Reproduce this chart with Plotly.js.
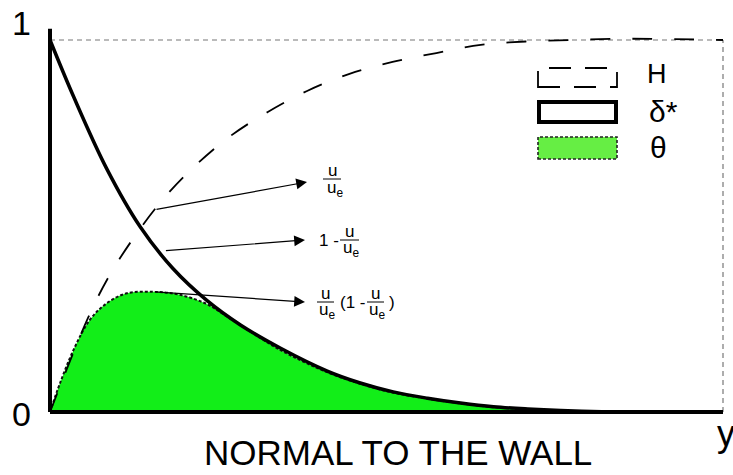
<!DOCTYPE html>
<html>
<head>
<meta charset="utf-8">
<script src="https://cdn.plot.ly/plotly-3.0.1.min.js"></script>
<style>html,body{margin:0;padding:0;background:#fff;}#chart{width:733px;height:475px;}</style>
</head>
<body>
<div id="chart"></div>
<script>
// Distance normal to the wall (arbitrary units)
const yStar = [0, 0.35, 0.84, 1.34, 1.83, 2.33, 2.83, 3.42, 4.12, 4.61, 5.10, 5.61, 6.10, 6.59, 7.10, 7.59, 8.2, 9.0, 10];
// 1 - u/ue : displacement thickness integrand
const defect = [1.0, 0.848, 0.655, 0.498, 0.385, 0.300, 0.234, 0.172, 0.110, 0.078, 0.054, 0.037, 0.024, 0.014, 0.008, 0.004, 0.001, 0, 0];

const yVel = [0, 0.57, 0.88, 1.25, 1.67, 2.14, 2.66, 3.23, 3.82, 4.45, 5.09, 5.74, 6.40, 7.07, 7.74, 8.41, 9.1, 10];
// u/ue : velocity profile
const velocity = [0, 0.255, 0.366, 0.470, 0.570, 0.659, 0.739, 0.806, 0.863, 0.909, 0.941, 0.965, 0.987, 0.996, 1.0, 1.003, 1.003, 1.0];

const yMom = [0, 0.15, 0.35, 0.59, 0.84, 1.14, 1.54, 1.93, 2.33, 2.72, 3.42, 4.12, 4.61, 5.10, 5.61, 6.10, 6.59, 7.10, 7.59, 8.2, 9.0, 10];
// u/ue (1 - u/ue) : momentum thickness integrand
const momentum = [0, 0.078, 0.167, 0.247, 0.292, 0.319, 0.323, 0.315, 0.290, 0.246, 0.167, 0.107, 0.076, 0.052, 0.036, 0.023, 0.013, 0.007, 0.003, 0.001, 0, 0];

const legendNames = ['H', 'δ*', 'θ'];
const yTickText = ['0', '1'];
const xTitle = 'NORMAL TO THE WALL';

// ---- layout geometry (pixels) ----
const W = 733, H = 475;
const M = {l: 46, r: 5, t: 22, b: 56};
const plotW = W - M.l - M.r, plotH = H - M.t - M.b;
const X0PX = 50, X1PX = 723, Y0PX = 412, Y1PX = 40, XMAX = 10;
const xr = [(M.l - X0PX) / (X1PX - X0PX) * XMAX, (W - M.r - X0PX) / (X1PX - X0PX) * XMAX];
const yr = [(Y0PX - (H - M.b)) / (Y0PX - Y1PX), (Y0PX - M.t) / (Y0PX - Y1PX)];
const px = x => (x - M.l) / plotW;          // pixel -> paper x
const py = y => (H - M.b - y) / plotH;      // pixel -> paper y
const dx = x => (x - X0PX) / (X1PX - X0PX) * XMAX; // pixel -> data x
const dy = y => (Y0PX - y) / (Y0PX - Y1PX);        // pixel -> data y

function interp(xs, ys, x) {
  for (let i = 1; i < xs.length; i++) {
    if (x <= xs[i]) {
      const t = (x - xs[i - 1]) / (xs[i] - xs[i - 1]);
      return ys[i - 1] + t * (ys[i] - ys[i - 1]);
    }
  }
  return ys[ys.length - 1];
}

const FONT = '"Liberation Sans", Arial, sans-serif';
const GREEN = '#12EE18';

const traces = [
  {x: yMom, y: momentum, type: 'scatter', mode: 'lines', fill: 'tozeroy', fillcolor: GREEN,
   line: {color: '#111', width: 2, dash: '3px,2px', shape: 'spline', smoothing: 1}, hoverinfo: 'skip'},
  {x: yStar, y: defect, type: 'scatter', mode: 'lines',
   line: {color: '#000', width: 3.5, shape: 'spline', smoothing: 1}, hoverinfo: 'skip'},
  {x: yVel, y: velocity, type: 'scatter', mode: 'lines',
   line: {color: '#000', width: 1.8, dash: '20px,22px', shape: 'spline', smoothing: 1}, hoverinfo: 'skip'}
];

const shapes = [
  // frame: dashed top (u/ue = 1) and right edge
  {type: 'line', xref: 'x', yref: 'y', x0: 0, x1: XMAX, y0: 1, y1: 1, layer: 'below', line: {color: '#777', width: 1.2, dash: '5px,4px'}},
  {type: 'line', xref: 'x', yref: 'y', x0: XMAX, x1: XMAX, y0: 0, y1: 1, layer: 'below', line: {color: '#777', width: 1.2, dash: '5px,4px'}},
  // axes
  {type: 'line', xref: 'x', yref: 'y', x0: 0, x1: 0, y0: 0, y1: 1.03, line: {color: '#000', width: 4}},
  {type: 'line', xref: 'x', yref: 'y', x0: 0, x1: XMAX, y0: 0, y1: 0, line: {color: '#000', width: 4}},
  // legend swatches
  {type: 'rect', xref: 'paper', yref: 'paper', x0: px(538), x1: px(617), y0: py(87), y1: py(68), line: {color: '#000', width: 1.8, dash: '22px,14px'}},
  {type: 'rect', xref: 'paper', yref: 'paper', x0: px(539), x1: px(616), y0: py(122), y1: py(102), fillcolor: '#fff', line: {color: '#000', width: 4}},
  {type: 'rect', xref: 'paper', yref: 'paper', x0: px(538), x1: px(617), y0: py(159), y1: py(137), fillcolor: '#66EE44', line: {color: '#222', width: 1.6, dash: '3px,2px'}},
  // fraction bars
  {type: 'line', xref: 'paper', yref: 'paper', x0: px(323), x1: px(341), y0: py(179), y1: py(179), line: {color: '#000', width: 1}},
  {type: 'line', xref: 'paper', yref: 'paper', x0: px(340), x1: px(359), y0: py(240), y1: py(240), line: {color: '#000', width: 1}},
  {type: 'line', xref: 'paper', yref: 'paper', x0: px(317), x1: px(334), y0: py(302), y1: py(302), line: {color: '#000', width: 1}},
  {type: 'line', xref: 'paper', yref: 'paper', x0: px(367), x1: px(384), y0: py(302), y1: py(302), line: {color: '#000', width: 1}}
];

function txt(text, x, y, size, xanchor) {
  return {text: text, xref: 'paper', yref: 'paper', x: px(x), y: py(y), xanchor: xanchor || 'center', yanchor: 'middle',
          showarrow: false, font: {family: FONT, size: size, color: '#000'}};
}
function arrow(tailX, tailY, headPxX, headPxY) {
  return {text: '', xref: 'x', yref: 'y', axref: 'x', ayref: 'y', x: dx(headPxX), y: dy(headPxY), ax: tailX, ay: tailY,
          showarrow: true, arrowhead: 2, arrowsize: 1.8, arrowwidth: 1.2, arrowcolor: '#000', standoff: 0, startstandoff: 0};
}

// arrow tails sit on the curves
const aVel = 1.56, aDef = 1.62;
let peakI = 0;
momentum.forEach((v, i) => { if (v > momentum[peakI]) peakI = i; });

const S = 17;
const annotations = [
  txt(yTickText[1], 21, 23, 34), txt(yTickText[0], 22, 414, 34),
  txt(xTitle, 398, 452, 35),
  txt('y', 726, 433, 36),
  txt(legendNames[0], 657, 74, 27), txt(legendNames[1], 647, 111, 30, 'left'), txt(legendNames[2], 648, 148, 30, 'left'),
  arrow(aVel, interp(yVel, velocity, aVel), 307, 182),
  arrow(aDef + 0.08, interp(yStar, defect, aDef), 305, 240),
  arrow(yMom[peakI], momentum[peakI], 305, 302),
  txt('u', 332, 170, S), txt('u<sub>e</sub>', 325, 189, S, 'left'),
  txt('1 -', 317, 240, S, 'left'), txt('u', 349.5, 231, S), txt('u<sub>e</sub>', 341, 249, S, 'left'),
  txt('u', 325.5, 293, S), txt('u<sub>e</sub>', 317, 311, S, 'left'),
  txt('(1 -', 338, 302, S, 'left'),
  txt('u', 375.5, 293, S), txt('u<sub>e</sub>', 367, 311, S, 'left'),
  txt(')', 387, 302, S, 'left')
];

const axisOff = {showgrid: false, zeroline: false, showticklabels: false, showline: false, ticks: '', fixedrange: true};

const layout = {
  width: W, height: H,
  margin: M,
  paper_bgcolor: '#fff', plot_bgcolor: '#fff',
  showlegend: false,
  xaxis: Object.assign({}, axisOff, {range: xr}),
  yaxis: Object.assign({}, axisOff, {range: yr}),
  shapes: shapes,
  annotations: annotations,
  font: {family: FONT}
};

Plotly.newPlot('chart', traces, layout, {displayModeBar: false, staticPlot: true});
</script>
</body>
</html>
